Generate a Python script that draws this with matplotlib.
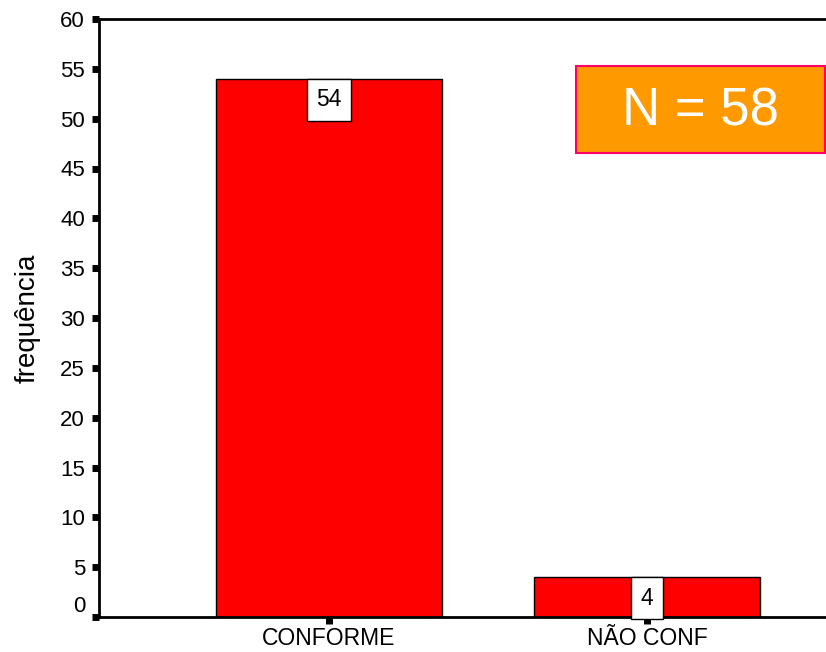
import matplotlib.pyplot as plt
import matplotlib.transforms as mtransforms
from matplotlib.patches import Rectangle

plt.rcParams['font.family'] = ['Liberation Sans', 'DejaVu Sans']

categorias = ['CONFORME', 'NÃO CONF']
frequencias = [54, 4]
total = sum(frequencias)

fig = plt.figure(figsize=(8.26, 6.52), dpi=100)
ax = fig.add_axes([99 / 826, 35 / 652, 1 - 99 / 826, 598 / 652])

x = range(len(categorias))
bars = ax.bar(x, frequencias, width=0.71, color='#ff0000', edgecolor='black', linewidth=1)

ax.set_xlim(-0.723, 1.563)
ax.set_ylim(0, 60)
ax.set_yticks(range(0, 61, 5))
ax.set_xticks(list(x))
ax.set_xticklabels(categorias, fontsize=16.5)
ax.tick_params(axis='y', labelsize=16, length=5, width=5, direction='out', pad=5)
ax.tick_params(axis='x', length=5, width=5, direction='out', pad=2.5)

# o rótulo do zero fica um pouco acima do tique
lbl0 = ax.get_yticklabels()[0]
lbl0.set_transform(lbl0.get_transform() + mtransforms.ScaledTranslation(0, 13 / 100, fig.dpi_scale_trans))

ax.spines['right'].set_visible(False)
ax.spines['left'].set_linewidth(2)
ax.spines['bottom'].set_linewidth(2)
ax.spines['top'].set_linewidth(2)

ax.set_ylabel('frequência', fontsize=20, labelpad=14)

# caixas com o valor no topo de cada barra
for b, v in zip(bars, frequencias):
    ax.annotate(str(v), (b.get_x() + b.get_width() / 2, v), xytext=(0, -15.2),
                textcoords='offset points', ha='center', va='center', fontsize=16.5,
                bbox=dict(boxstyle='square,pad=0.42', facecolor='white', edgecolor='black', linewidth=1))

# quadro laranja com o total
ax.add_patch(Rectangle((0.6561, 0.7759), 0.3425, 0.1455, transform=ax.transAxes,
                       facecolor='#ff9900', edgecolor='#ff0066', linewidth=1.5, zorder=3))
ax.text(0.8274, 0.846, 'N = %d' % total, transform=ax.transAxes, ha='center', va='center',
        fontsize=38, color='white', zorder=4)

fig.savefig('out.png', dpi=100)
